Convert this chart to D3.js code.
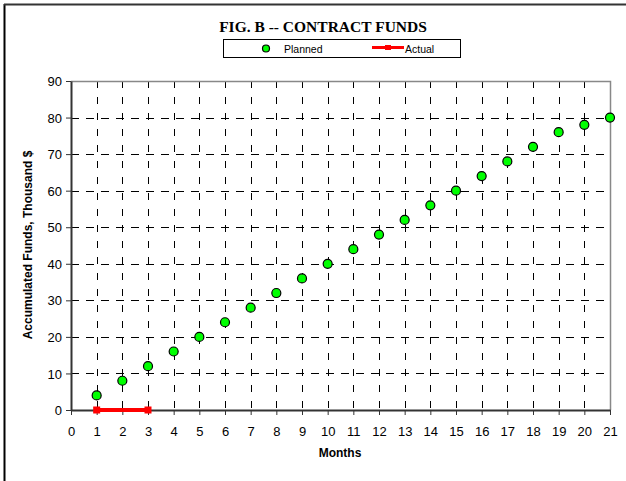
<!DOCTYPE html>
<html>
<head>
<meta charset="utf-8">
<script src="https://cdn.jsdelivr.net/npm/d3@7"></script>
<style>
  html, body { margin: 0; padding: 0; background: #fff; }
  svg { display: block; }
</style>
</head>
<body>
<svg id="chart" width="626" height="481"></svg>
<script>
// Cumulative contract funds, thousand dollars, by month
const months = [1, 2, 3, 4, 5, 6, 7, 8, 9, 10, 11, 12, 13, 14, 15, 16, 17, 18, 19, 20, 21];
const planned = [4, 8, 12, 16, 20, 24, 28, 32, 36, 40, 44, 48, 52, 56, 60, 64, 68, 72, 76, 78, 80];
const actualMonths = [1, 2, 3];
const actual = [0, 0, 0];
const xTicks = d3.range(0, 22);
const yTicks = [0, 10, 20, 30, 40, 50, 60, 70, 80, 90];

const svg = d3.select("#chart");
const W = 626, H = 481;

// outer frame
svg.append("line").attr("x1", 4.5).attr("x2", 4.5).attr("y1", 4).attr("y2", H)
  .attr("stroke", "#000").attr("stroke-width", 2);
svg.append("line").attr("x1", 4).attr("x2", W).attr("y1", 4.5).attr("y2", 4.5)
  .attr("stroke", "#333").attr("stroke-width", 2);

const x = d3.scaleLinear().domain([0, 21]).range([71, 610]);
const y = d3.scaleLinear().domain([0, 90]).range([410, 81]);

// grid
const grid = svg.append("g").attr("stroke", "#000").attr("stroke-width", 1);
grid.selectAll("line.v").data(months.filter(m => m < 21)).join("line")
  .attr("stroke-dasharray", "7,9")
  .attr("x1", d => Math.round(x(d)) + 0.5).attr("x2", d => Math.round(x(d)) + 0.5)
  .attr("y1", y(90)).attr("y2", y(0));
grid.selectAll("line.h").data(yTicks.filter(v => v > 0 && v < 90)).join("line")
  .attr("stroke-dasharray", "8,7")
  .attr("y1", d => Math.round(y(d)) + 0.5).attr("y2", d => Math.round(y(d)) + 0.5)
  .attr("x1", x(0)).attr("x2", x(21));

// top and right frame of plot area
svg.append("path")
  .attr("d", `M${x(0)},${Math.round(y(90)) + 0.5}H${Math.round(x(21)) + 0.5}V${y(0)}`)
  .attr("fill", "none").attr("stroke", "#888").attr("stroke-width", 1.5);

// axes
const xAxis = d3.axisBottom(x).tickValues(xTicks).tickSize(5).tickSizeOuter(0).tickPadding(12);
const yAxis = d3.axisLeft(y).tickValues(yTicks).tickSize(5).tickSizeOuter(0).tickPadding(4);

const gx = svg.append("g").attr("transform", `translate(0,${y(0)})`).call(xAxis);
const gy = svg.append("g").attr("transform", `translate(${x(0)},0)`).call(yAxis);
[gx, gy].forEach(g => {
  g.select(".domain").attr("stroke", "#333").attr("stroke-width", 2);
  g.selectAll(".tick line").attr("stroke", "#333").attr("stroke-width", 1);
  g.selectAll(".tick text").attr("font-family", "Liberation Sans, Arial, sans-serif")
    .attr("font-size", 13).attr("fill", "#000");
});
gy.selectAll(".tick text").attr("dy", "0.35em");

// actual series: line with end markers
const actualPts = actualMonths.map((m, i) => [m, actual[i]]);
svg.append("path").datum(actualPts)
  .attr("d", d3.line().x(d => x(d[0])).y(d => y(d[1])))
  .attr("fill", "none").attr("stroke", "#ff0000").attr("stroke-width", 4);
svg.selectAll("rect.act").data([actualPts[0], actualPts[actualPts.length - 1]]).join("rect")
  .attr("x", d => x(d[0]) - 3.5).attr("y", d => y(d[1]) - 3.5)
  .attr("width", 7).attr("height", 7).attr("fill", "#ff0000");

// planned series
svg.selectAll("circle.plan").data(months.map((m, i) => [m, planned[i]])).join("circle")
  .attr("cx", d => x(d[0])).attr("cy", d => y(d[1])).attr("r", 4.5)
  .attr("fill", "#00ff00").attr("stroke", "#000").attr("stroke-width", 1.2);

// title
svg.append("text").attr("x", 323).attr("y", 32).attr("text-anchor", "middle")
  .attr("font-family", "Liberation Serif, Times New Roman, serif").attr("font-weight", "bold")
  .attr("font-size", 15.5).text("FIG. B -- CONTRACT FUNDS");

// legend
const lg = svg.append("g");
lg.append("rect").attr("x", 223.5).attr("y", 39.5).attr("width", 237).attr("height", 18)
  .attr("fill", "#fff").attr("stroke", "#000").attr("stroke-width", 1);
lg.append("circle").attr("cx", 266).attr("cy", 48.5).attr("r", 3.5)
  .attr("fill", "#00ff00").attr("stroke", "#000").attr("stroke-width", 1.2);
lg.append("text").attr("x", 284).attr("y", 52.5).attr("font-family", "Liberation Sans, Arial, sans-serif")
  .attr("font-size", 10.5).text("Planned");
lg.append("line").attr("x1", 372).attr("x2", 404).attr("y1", 47.5).attr("y2", 47.5)
  .attr("stroke", "#ff0000").attr("stroke-width", 3);
lg.append("rect").attr("x", 385).attr("y", 45).attr("width", 6).attr("height", 5).attr("fill", "#ff0000");
lg.append("text").attr("x", 405).attr("y", 52.5).attr("font-family", "Liberation Sans, Arial, sans-serif")
  .attr("font-size", 10.5).text("Actual");

// axis titles
svg.append("text").attr("x", 340).attr("y", 457).attr("text-anchor", "middle")
  .attr("font-family", "Liberation Sans, Arial, sans-serif").attr("font-weight", "bold")
  .attr("font-size", 12).text("Months");
svg.append("text").attr("transform", "translate(32,245) rotate(-90)").attr("text-anchor", "middle")
  .attr("font-family", "Liberation Sans, Arial, sans-serif").attr("font-weight", "bold")
  .attr("font-size", 12).text("Accumulated Funds, Thousand $");
</script>
</body>
</html>
